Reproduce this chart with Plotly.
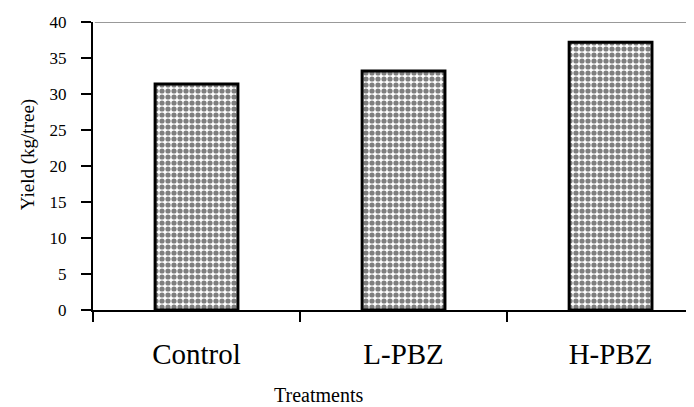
import plotly.graph_objects as go

categories = ["Control", "L-PBZ", "H-PBZ"]
yield_values = [31.4, 33.2, 37.2]
y_ticks = [0, 5, 10, 15, 20, 25, 30, 35, 40]

fig = go.Figure()
fig.add_trace(go.Bar(
    x=categories,
    y=yield_values,
    width=0.4,
    marker=dict(
        color="white",
        line=dict(color="black", width=3),
        pattern=dict(shape=".", fgcolor="black", bgcolor="white", size=6, solidity=0.6),
    ),
    showlegend=False,
))

fig.update_layout(
    width=686, height=399,
    margin=dict(l=85, r=0, t=14, b=97),
    paper_bgcolor="white", plot_bgcolor="white",
    font=dict(family="Liberation Serif", color="black"),
)
fig.update_xaxes(
    type="category",
    range=[-0.5, 2.403],
    showline=True, linecolor="black", linewidth=2,
    ticks="outside", ticklen=10, tickwidth=1.5, tickcolor="black",
    tickson="boundaries",
    tickfont=dict(size=29, family="Liberation Serif"),
    ticklabelstandoff=17,
    showgrid=False, zeroline=False,
)
fig.update_yaxes(
    range=[0, 40],
    tickvals=y_ticks,
    showline=True, linecolor="black", linewidth=2,
    ticks="outside", ticklen=10, tickwidth=1.5, tickcolor="black",
    tickfont=dict(size=17, family="Liberation Serif"),
    ticklabelstandoff=11,
    showgrid=False, zeroline=False,
)
fig.add_shape(type="line", xref="paper", yref="y", x0=0.003, x1=1, y0=40, y1=40,
              line=dict(color="#999999", width=2))
fig.add_annotation(text="Yield (kg/tree)", xref="paper", yref="paper",
                   x=-0.108, y=0.538, xanchor="center", yanchor="middle",
                   textangle=-90, showarrow=False,
                   font=dict(size=19, family="Liberation Serif"))
fig.add_annotation(text="Treatments", xref="paper", yref="paper",
                   x=0.376, y=-0.34, xanchor="center", yanchor="bottom",
                   showarrow=False,
                   font=dict(size=20, family="Liberation Serif"))

fig.write_html("out.html")
